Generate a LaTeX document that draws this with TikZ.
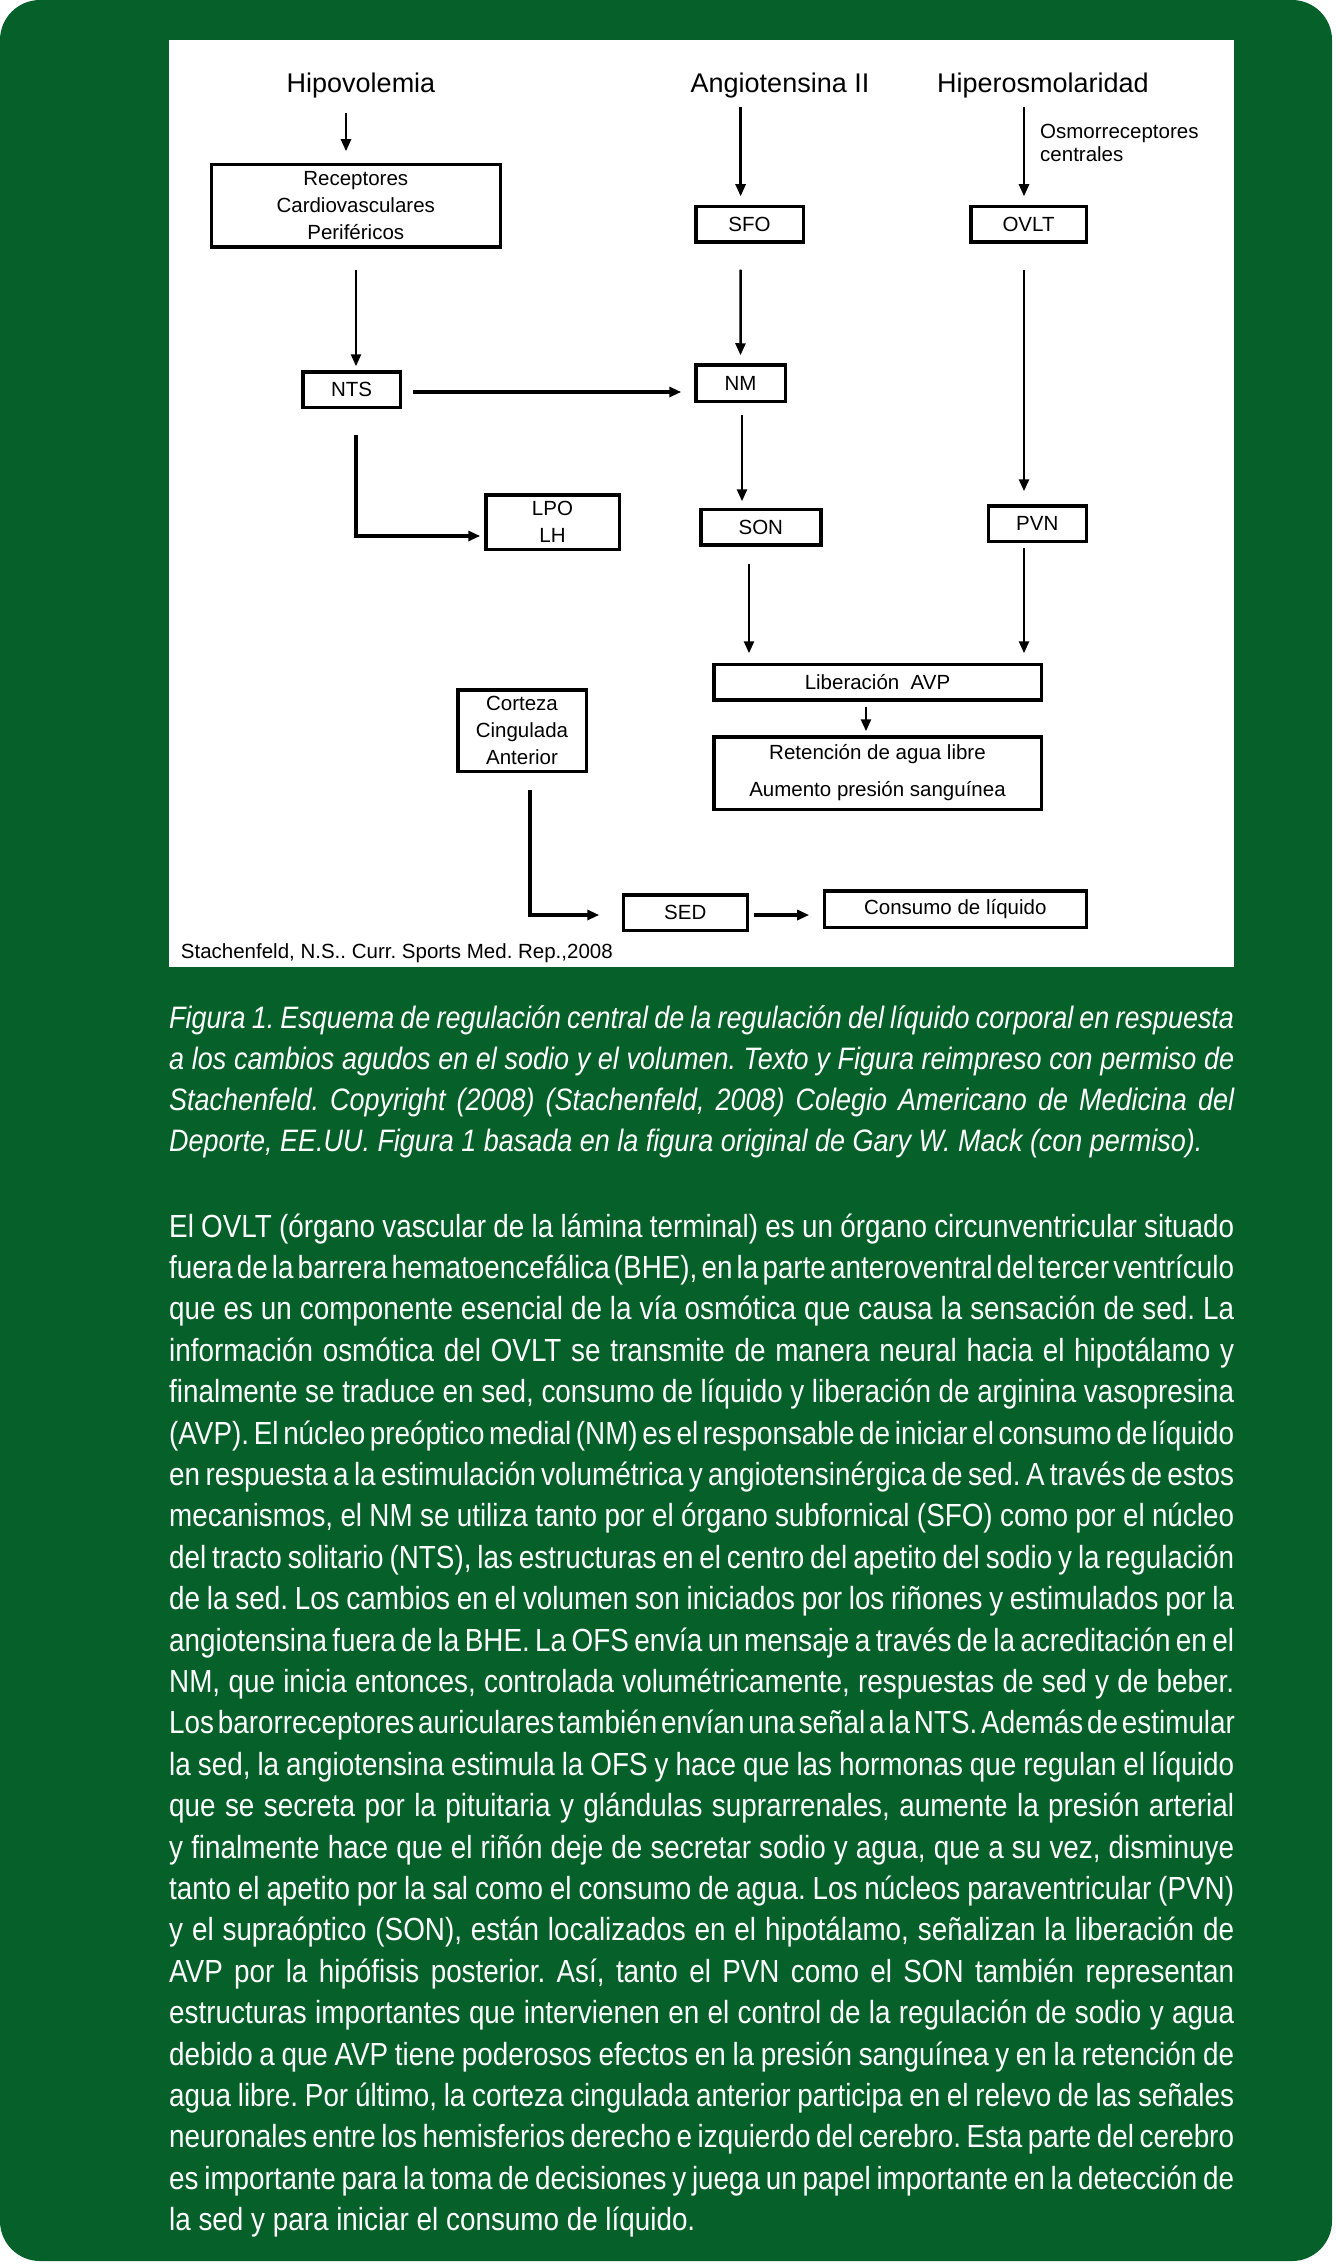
\documentclass[tikz,border=0pt]{standalone}
\usepackage{fontspec}
\setmainfont{Liberation Sans}
\newfontfamily\cuerpo[FakeStretch=0.87]{Liberation Sans}
\usetikzlibrary{arrows.meta, shadows}

\definecolor{verde}{RGB}{5,97,41}
\newcommand{\linea}[1]{\makebox[1065pt][s]{\spaceskip=0.24em plus 1em minus 0.12em #1}}

\begin{document}
\frenchspacing
\begin{tikzpicture}[x=1pt, y=-1pt,
  caja/.style={draw, fill=white, line width=3.5pt, inner sep=0pt, align=center, font=\fontsize{20.5}{27}\selectfont,
    drop shadow={shadow xshift=1.5pt, shadow yshift=-1.5pt, opacity=0.3, fill=gray}},
  titulo/.style={inner sep=0pt, anchor=base, font=\fontsize{27}{30}\selectfont},
  flecha/.style={-{Triangle[length=12pt, width=10pt]}, line width=2.5pt},
  gruesa/.style={flecha, line width=4pt},
  texto/.style={inner sep=0pt, anchor=base west, text=white, font=\cuerpo\fontsize{32}{41}\selectfont}]

\useasboundingbox (0,0) rectangle (1335,2266);
\fill[white] (0,0) rectangle (1335,2266);

% green panel and white figure area
\fill[verde, rounded corners=40pt] (0,0) rectangle (1332,2261);
\fill[white] (169,40.5) rectangle (1234,967);

% Headings
\node[titulo] (hipo) at (361,93) {Hipovolemia};
\node[titulo] (angio) at (780,93) {Angiotensina II};
\node[titulo] (hiper) at (1043,93) {Hiperosmolaridad};
\node[inner sep=0pt, anchor=north west, align=left, font=\fontsize{20.5}{23}\selectfont] (osmo) at (1040,124) {Osmorreceptores\\centrales};

% Boxes
\node[caja, minimum width=289pt, minimum height=82.5pt] (rec) at (355.75,206) {Receptores\\Cardiovasculares\\Periféricos};
\node[caja, minimum width=107.5pt, minimum height=35.5pt] (sfo) at (749.5,224.5) {SFO};
\node[caja, minimum width=115.5pt, minimum height=35.5pt] (ovlt) at (1028.5,224.5) {OVLT};
\node[caja, minimum width=97.5pt, minimum height=35.5pt] (nts) at (351.5,389.5) {NTS};
\node[caja, minimum width=89.5pt, minimum height=36.5pt] (nm) at (740.5,383) {NM};
\node[caja, minimum width=133.5pt, minimum height=54.5pt] (lpo) at (552.5,522) {LPO\\LH};
\node[caja, minimum width=120pt, minimum height=35.5pt] (son) at (760.8,527.2) {SON};
\node[caja, minimum width=98pt, minimum height=35.5pt] (pvn) at (1037.25,523.5) {PVN};
\node[caja, minimum width=327.5pt, minimum height=35.5pt] (lib) at (877.5,682.2) {Liberación\ \ AVP};
\node[caja, minimum width=327.5pt, minimum height=72.5pt] (ret) at (877.5,773) {Retención de agua libre\\[10pt]Aumento presión sanguínea};
\node[caja, minimum width=128.5pt, minimum height=81.5pt] (cor) at (522,730.5) {Corteza\\Cingulada\\Anterior};
\node[caja, minimum width=124pt, minimum height=35.5pt] (sed) at (685.25,912.5) {SED};
\node[caja, minimum width=262pt, minimum height=36.5pt] (con) at (955.3,909) {Consumo de líquido};

% Arrows
\draw[flecha, shorten <=14.5pt, shorten >=11.75pt] ([xshift=-15pt]hipo.south) -- ([xshift=-9.75pt]rec.north);
\draw[flecha, shorten <=8.5pt, shorten >=8.75pt] ([xshift=-39.4pt]angio.south) -- ([xshift=-8.9pt]sfo.north);
\draw[flecha, shorten <=8.5pt, shorten >=8.75pt] ([xshift=-19pt]hiper.south) -- ([xshift=-4.5pt]ovlt.north);
\draw[flecha, shorten <=20.75pt, shorten >=3.75pt] ([xshift=0.25pt]rec.south) -- ([xshift=4.5pt]nts.north);
\draw[flecha, shorten <=25.75pt, shorten >=7.75pt] ([xshift=-8.9pt]sfo.south) -- (nm.north);
\draw[flecha, shorten <=25.75pt, shorten >=12.75pt] ([xshift=-4.5pt]ovlt.south) -- ([xshift=-13.25pt]pvn.north);
\draw[gruesa, shorten <=10.75pt, shorten >=12.75pt] ([yshift=-2.5pt]nts.east) -- ([yshift=-9pt]nm.west);
\draw[gruesa, shorten <=25.75pt, shorten >=3.75pt] ([xshift=4.5pt]nts.south) |- ([yshift=-14pt]lpo.west);
\draw[flecha, shorten <=11.75pt, shorten >=6.45pt] ([xshift=1.5pt]nm.south) -- ([xshift=-18.8pt]son.north);
\draw[flecha, shorten <=17.75pt, shorten >=9.45pt] ([xshift=-11.8pt]son.south) -- ([xshift=-128.5pt]lib.north);
\draw[flecha, shorten <=5.45pt, shorten >=9.45pt] ([xshift=-13.25pt]pvn.south) -- ([xshift=146.5pt]lib.north);
\draw[flecha, shorten <=5pt, shorten >=3.75pt] ([xshift=-11.5pt]lib.south) -- ([xshift=-11.5pt]ret.north);
\draw[gruesa, shorten <=16.75pt, shorten >=22.25pt] ([xshift=8pt]cor.south) |- ([yshift=-2.5pt]sed.west);
\draw[gruesa, shorten <=4.75pt, shorten >=13.35pt] ([yshift=-2.5pt]sed.east) -- ([yshift=-6pt]con.west);

% Source
\node[anchor=base west, inner sep=0pt, font=\fontsize{20.5}{24}\selectfont] (cita) at (180.7,958) {Stachenfeld, N.S.. Curr. Sports Med. Rep.,2008};

% Caption
\foreach \txt [count=\i from 0] in {%
  {Figura 1. Esquema de regulación central de la regulación del líquido corporal en respuesta},
  {a los cambios agudos en el sodio y el volumen. Texto y Figura reimpreso con permiso de},
  {Stachenfeld. Copyright (2008) (Stachenfeld, 2008) Colegio Americano de Medicina del}}
  \node[texto, font=\cuerpo\itshape\fontsize{31}{41}\selectfont] (pie\i) at (169,1028+41*\i) {\linea{\txt}};
\node[texto, font=\cuerpo\itshape\fontsize{31}{41}\selectfont] (pie3) at (169,1151) {Deporte, EE.UU. Figura 1 basada en la figura original de Gary W. Mack (con permiso).};

% Body text
\foreach \txt [count=\i from 0] in {%
  {El OVLT (órgano vascular de la lámina terminal) es un órgano circunventricular situado},
  {fuera de la barrera hematoencefálica (BHE), en la parte anteroventral del tercer ventrículo},
  {que es un componente esencial de la vía osmótica que causa la sensación de sed. La},
  {información osmótica del OVLT se transmite de manera neural hacia el hipotálamo y},
  {finalmente se traduce en sed, consumo de líquido y liberación de arginina vasopresina},
  {(AVP). El núcleo preóptico medial (NM) es el responsable de iniciar el consumo de líquido},
  {en respuesta a la estimulación volumétrica y angiotensinérgica de sed. A través de estos},
  {mecanismos, el NM se utiliza tanto por el órgano subfornical (SFO) como por el núcleo},
  {del tracto solitario (NTS), las estructuras en el centro del apetito del sodio y la regulación},
  {de la sed. Los cambios en el volumen son iniciados por los riñones y estimulados por la},
  {angiotensina fuera de la BHE. La OFS envía un mensaje a través de la acreditación en el},
  {NM, que inicia entonces, controlada volumétricamente, respuestas de sed y de beber.},
  {Los barorreceptores auriculares también envían una señal a la NTS. Además de estimular},
  {la sed, la angiotensina estimula la OFS y hace que las hormonas que regulan el líquido},
  {que se secreta por la pituitaria y glándulas suprarrenales, aumente la presión arterial},
  {y finalmente hace que el riñón deje de secretar sodio y agua, que a su vez, disminuye},
  {tanto el apetito por la sal como el consumo de agua. Los núcleos paraventricular (PVN)},
  {y el supraóptico (SON), están localizados en el hipotálamo, señalizan la liberación de},
  {AVP por la hipófisis posterior. Así, tanto el PVN como el SON también representan},
  {estructuras importantes que intervienen en el control de la regulación de sodio y agua},
  {debido a que AVP tiene poderosos efectos en la presión sanguínea y en la retención de},
  {agua libre. Por último, la corteza cingulada anterior participa en el relevo de las señales},
  {neuronales entre los hemisferios derecho e izquierdo del cerebro. Esta parte del cerebro},
  {es importante para la toma de decisiones y juega un papel importante en la detección de}}
  \node[texto] (cuerpo\i) at (169,1237+41.4*\i) {\linea{\txt}};
\node[texto] (cuerpo24) at (169,2230.6) {la sed y para iniciar el consumo de líquido.};

\end{tikzpicture}
\end{document}
